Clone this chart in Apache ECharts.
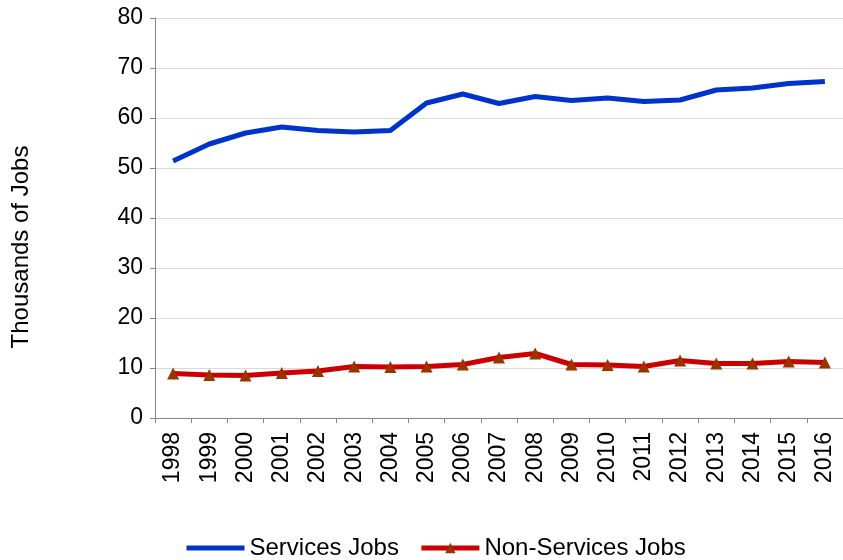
<!DOCTYPE html>
<html>
<head>
<meta charset="utf-8">
<script src="https://cdn.jsdelivr.net/npm/echarts@6/dist/echarts.min.js"></script>
<style>
html,body{margin:0;padding:0;background:#fff;}
#chart{width:843px;height:560px;}
</style>
</head>
<body>
<div id="chart"></div>
<script>
var years = ['1998','1999','2000','2001','2002','2003','2004','2005','2006','2007','2008','2009','2010','2011','2012','2013','2014','2015','2016'];
var servicesJobs = [51.4,54.8,57.0,58.2,57.5,57.2,57.5,63.0,64.8,62.9,64.3,63.5,64.0,63.3,63.6,65.6,66.0,66.9,67.3];
var nonServicesJobs = [8.9,8.6,8.5,9.0,9.4,10.3,10.2,10.3,10.7,12.1,12.9,10.7,10.6,10.3,11.5,10.9,10.9,11.3,11.1];
var yTicks = [0,10,20,30,40,50,60,70,80];

var FONT = 'Liberation Sans, Arial, sans-serif';
var chart = echarts.init(document.getElementById('chart'));
chart.setOption({
  animation: false,
  backgroundColor: '#ffffff',
  textStyle: {fontFamily: FONT},
  grid: {left: 155, right: 0, top: 18, bottom: 142, containLabel: false},
  legend: {
    top: 531,
    left: 179,
    itemWidth: 58,
    itemHeight: 13,
    itemGap: 20,
    lineStyle: {width: 5},
    textStyle: {fontFamily: FONT, fontSize: 24, color: '#000'},
    data: [
      {name: 'Services Jobs', itemStyle: {opacity: 0}},
      {name: 'Non-Services Jobs'}
    ]
  },
  xAxis: {
    type: 'category',
    data: years,
    boundaryGap: true,
    axisLine: {lineStyle: {color: '#868686', width: 1}},
    axisTick: {show: true, interval: 0, length: 5, lineStyle: {color: '#868686'}},
    axisLabel: {rotate: 90, interval: 0, margin: 14, fontSize: 23, color: '#000', fontFamily: FONT},
    splitLine: {show: false}
  },
  yAxis: {
    type: 'value',
    min: yTicks[0],
    max: yTicks[yTicks.length - 1],
    interval: 10,
    name: 'Thousands of Jobs',
    nameLocation: 'middle',
    nameRotate: 90,
    nameGap: 122,
    nameTextStyle: {fontSize: 24, color: '#000', fontFamily: FONT, padding: [0, 58, 0, 0]},
    axisLine: {show: true, lineStyle: {color: '#868686', width: 1}},
    axisTick: {show: true, length: 5, lineStyle: {color: '#868686'}},
    axisLabel: {fontSize: 23, color: '#000', margin: 12, fontFamily: FONT},
    splitLine: {show: true, lineStyle: {color: '#d9d9d9', width: 1}}
  },
  series: [
    {
      name: 'Services Jobs',
      type: 'line',
      data: servicesJobs,
      symbol: 'none',
      lineStyle: {color: '#0033cc', width: 5},
      itemStyle: {color: '#0033cc'}
    },
    {
      name: 'Non-Services Jobs',
      type: 'line',
      data: nonServicesJobs,
      symbol: 'triangle',
      symbolSize: 12,
      lineStyle: {color: '#cc0000', width: 5},
      itemStyle: {color: '#993300', borderWidth: 0}
    }
  ]
});
</script>
</body>
</html>
